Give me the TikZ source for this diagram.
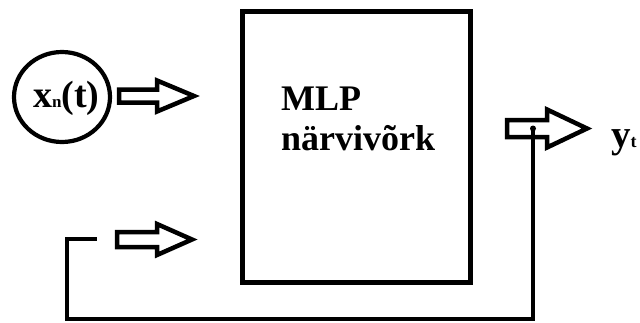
\documentclass[tikz,border=0pt]{standalone}
\usepackage{fontspec}
\setmainfont{Liberation Serif}
\usetikzlibrary{shapes.geometric}
\tikzset{
  arrowline/.style={line width=4.5pt, line join=miter},
  fbline/.style={line width=4.5pt},
  lbl/.style={inner sep=0pt, anchor=base west, font=\bfseries},
  pics/blockarrow/.style n args={4}{code={
    \draw[arrowline] (0,-#3) -- (#1,-#3) -- (#1,-#4) -- (#2,0) -- (#1,#4) -- (#1,#3) -- (0,#3) -- cycle;
  }}
}
\newcommand{\fsz}[1]{\fontsize{#1}{#1}\selectfont}
\begin{document}
\begin{tikzpicture}[x=1pt,y=-1pt]
\useasboundingbox (0,0) rectangle (640,322);
% input circle
\node[ellipse, draw, line width=4.2pt, minimum width=96, minimum height=90, inner sep=0pt] (xin) at (62,97) {};
\node[lbl] (xtext) at (33,107) {\fsz{38}x\fsz{17}n\fsz{38}(t)};
% MLP box
\node[draw, line width=5pt, minimum width=228, minimum height=271.5, inner sep=0pt, anchor=north west] (mlp) at (240,8.5) {};
\node[lbl] (t1) at (281,110) {\fsz{36}MLP};
\node[lbl] (t2) at (281,150) {\fsz{36}närvivõrk};
% block arrows
\pic at (119,96) {blockarrow={38}{75}{6.5}{15.5}};
\pic at (117,239.5) {blockarrow={40}{75}{7.5}{15.5}};
\pic at (507,128.5) {blockarrow={40}{80}{8.5}{19}};
% output label
\node[lbl] (yout) at (611,147) {\fsz{39}y\fsz{18}t};
% feedback line
\coordinate (fbstart) at (533,128.5);
\coordinate (fbc1) at (533,319);
\coordinate (fbc2) at (67,319);
\coordinate (fbc3) at (67,239);
\coordinate (fbend) at (97,239);
\draw[fbline] (fbstart) -- (fbc1) -- (fbc2) -- (fbc3) -- (fbend);
\fill (fbstart) circle (3pt);
\end{tikzpicture}
\end{document}
